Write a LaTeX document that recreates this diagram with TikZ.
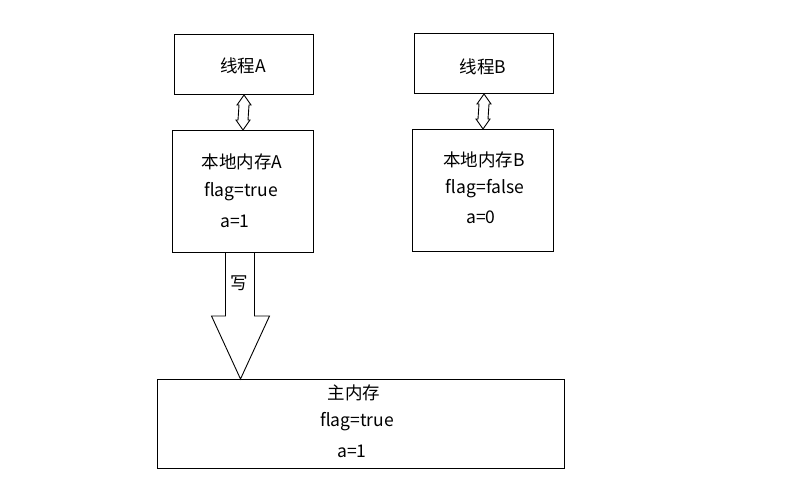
\documentclass[tikz,border=0pt]{standalone}
\usepackage{fontspec}
\setmainfont{Noto Sans CJK SC}
\usetikzlibrary{calc}
\begin{document}
\begin{tikzpicture}[x=1pt,y=-1pt,
  boxst/.style={draw,line width=1pt,inner sep=0pt,anchor=north west},
  txt/.style={inner sep=0pt,font=\fontsize{17.5}{20}\selectfont},
  arr/.style={draw,line width=0.9pt,line join=miter}]
\useasboundingbox (0,0) rectangle (787,493);
% boxes
\node[boxst,minimum width=139pt,minimum height=60pt] (ta) at (174,34) {};
\node[boxst,minimum width=141pt,minimum height=122pt] (la) at (172,130) {};
\node[boxst,minimum width=139pt,minimum height=60pt] (tb) at (414,33) {};
\node[boxst,minimum width=141pt,minimum height=122pt] (lb) at (412,129) {};
\node[boxst,minimum width=407pt,minimum height=89pt] (mm) at (157,379) {};
% texts
\node[txt] (tat) at (243,66) {线程A};
\node[txt] (tbt) at (483,67) {线程B};
\node[txt] (la1) at (242,162) {本地内存A};
\node[txt] (la2) at (241,192) {flag=true};
\node[txt] (la3) at (235,221) {a=1};
\node[txt] (lb1) at (484,160) {本地内存B};
\node[txt] (lb2) at (485,189) {flag=false};
\node[txt] (lb3) at (481,217) {a=0};
\node[txt] (mm1) at (354,393) {主内存};
\node[txt] (mm2) at (357,422) {flag=true};
\node[txt] (mm3) at (352,451) {a=1};
% double arrows
\draw[arr] (ta.south) -- ++(7,10) -- ++(-2,0) -- ($(la.north)+(5,-10)$) -- ++(2,0)
  -- (la.north) -- ++(-7,-10) -- ++(2,0) -- ($(ta.south)+(-5,10)$) -- ++(-2,0) -- cycle;
\draw[arr] (tb.south) -- ++(7,10) -- ++(-2,0) -- ($(lb.north)+(5,-10)$) -- ++(2,0)
  -- (lb.north) -- ++(-7,-10) -- ++(2,0) -- ($(tb.south)+(-5,10)$) -- ++(-2,0) -- cycle;
% big write arrow
\coordinate (tip) at ($(la.south |- mm.north)+(-2.5,0)$);
\draw[arr] ($(la.south)+(-17.5,0)$) -- ($(la.south)+(-17.5,63)$) -- ($(la.south)+(-31.5,63)$)
  -- (tip) -- ($(la.south)+(26.5,63)$) -- ($(la.south)+(11.5,63)$) -- ($(la.south)+(11.5,0)$);
\node[txt] (w) at (239,283) {写};
\end{tikzpicture}
\end{document}
